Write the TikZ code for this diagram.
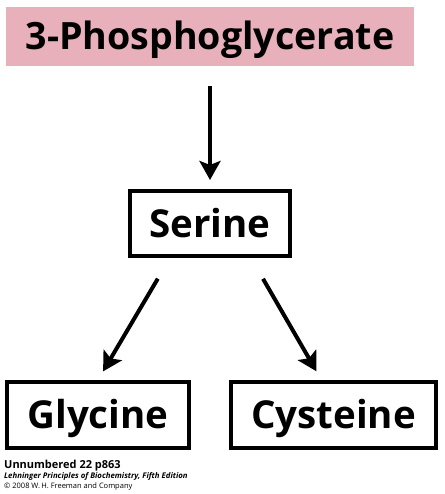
\documentclass[tikz,border=0pt]{standalone}
\usepackage{fontspec}
\setmainfont{Open Sans}
\usetikzlibrary{arrows.meta}
\definecolor{pgpink}{RGB}{232,176,186}

\begin{document}
\begin{tikzpicture}[x=1pt, y=-1pt,
					box/.style={draw, line width=4pt, inner sep=0pt, minimum height=66pt,
						text height=27pt, text depth=0pt, font=\fontsize{38.5}{42}\selectfont\bfseries},
					arr/.style={-{Stealth[length=19pt, width=21pt, inset=4pt]}, line width=4pt}]
					\useasboundingbox (0,0) rectangle (444,494);
					\node[fill=pgpink, inner sep=0pt, minimum width=408pt, minimum height=59pt,
						text height=27pt, text depth=0pt,
						font=\fontsize{37.6}{40}\selectfont\bfseries] (pg) at (210,36.5) {3-Phosphoglycerate};
					\node[box, minimum width=160pt, minimum height=65pt] (ser) at (210,223.5) {Serine};
					\node[box, minimum width=182pt] (gly) at (98,415) {Glycine};
					\node[box, minimum width=205pt] (cys) at (333.5,415) {Cysteine};
					\draw[arr, shorten <=20pt, shorten >=9pt] (pg) -- (ser);
					\draw[arr, shorten <=24pt, shorten >=10pt] ([xshift=-40pt]ser.south) -- (gly.north);
					\draw[arr, shorten <=24pt, shorten >=10pt] ([xshift=41pt]ser.south) -- ([xshift=-12pt]cys.north);
					% caption lines
					\node[anchor=base west, inner sep=0pt, font=\fontsize{11}{12}\selectfont\bfseries] (cap1) at (4,468) {Unnumbered 22 p863};
					\node[anchor=base west, inner sep=0pt, font=\fontsize{7.8}{9}\selectfont\bfseries\itshape] (cap2) at (4,478) {Lehninger Principles of Biochemistry, Fifth Edition};
					\node[anchor=base west, inner sep=0pt, font=\fontsize{7.5}{9}\selectfont] (cap3) at (4,488) {© 2008 W.\,H. Freeman and Company};
				\end{tikzpicture}
\end{document}
